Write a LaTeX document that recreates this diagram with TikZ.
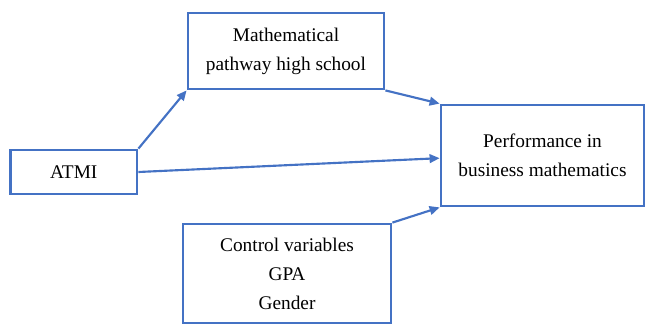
\documentclass[tikz,border=0pt]{standalone}
\usepackage{fontspec}
\setmainfont{Liberation Serif}
\usetikzlibrary{arrows.meta}
\definecolor{boxblue}{HTML}{4472C4}

\begin{document}
\begin{tikzpicture}[x=0.75pt,y=-0.75pt]
\tikzstyle{every node}+=[inner sep=0pt]
\tikzset{
  varbox/.style={draw=boxblue, line width=2.1pt, align=center,
    font=\fontsize{14.5}{21.75}\selectfont},
  link/.style={draw=boxblue, line width=1.6pt,
    -{Triangle[length=7.5pt,width=6.5pt]}}
}
\useasboundingbox (0,0) rectangle (646,326);
\node [varbox, minimum width=94.9pt, minimum height=33pt] (atmi) at (73.75,172) {ATMI};
\node [varbox, minimum width=147pt, minimum height=57pt] (pathway) at (286,51) {Mathematical\\pathway high school};
\node [varbox, minimum width=152.25pt, minimum height=75.75pt] (perf) at (542.5,155.5) {Performance in\\business mathematics};
\node [varbox, minimum width=156pt, minimum height=74.25pt] (control) at (287,273.5) {Control variables\\GPA\\Gender};
\draw [link] (atmi.north east) -- (pathway.south west);
\draw [link] (pathway.south east) -- (perf.north west);
\draw [link] (atmi.east) -- ([yshift=-2pt]perf.west);
\draw [link] (control.north east) -- (perf.south west);
\end{tikzpicture}
\end{document}
